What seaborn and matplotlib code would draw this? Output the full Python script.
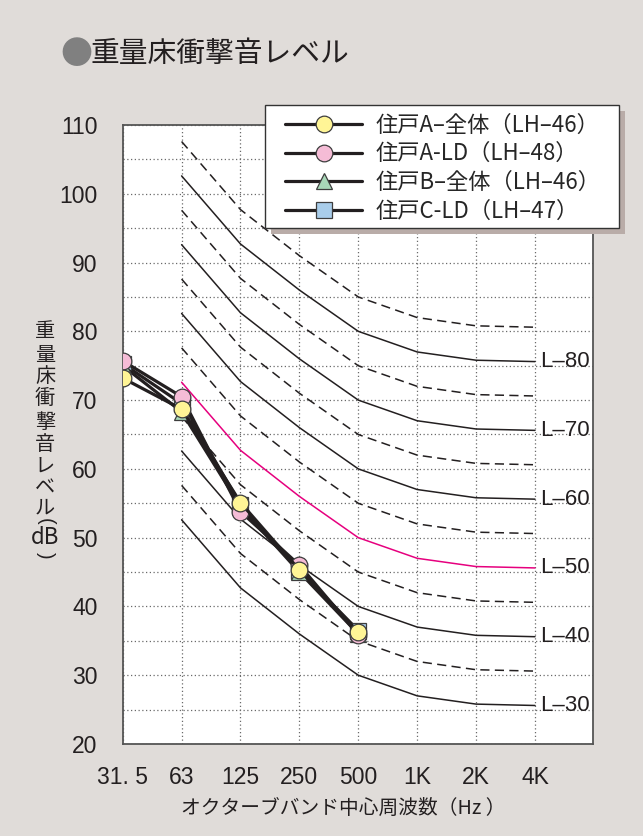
"""Heavy floor impact sound level chart (重量床衝撃音レベル) with L-curves."""
import matplotlib
matplotlib.use("Agg")
import matplotlib.pyplot as plt
from matplotlib.patches import Rectangle
import numpy as np
import pandas as pd
import seaborn as sns

# ---- data ------------------------------------------------------------------
BANDS = ["31. 5", "63", "125", "250", "500", "1K", "2K", "4K"]

# measured levels, 31.5 Hz .. 500 Hz
A_ALL = [73.2, 68.7, 55.1, 45.3, 36.3]
A_LD = [75.7, 70.5, 53.8, 46.0, 35.9]
B_ALL = [75.0, 68.3, 54.5, 45.0, 36.0]
C_LD = [75.3, 69.5, 54.8, 45.2, 36.5]
SERIES_NAMES = ["住戸A–全体（LH–46）", "住戸A-LD（LH–48）",
                "住戸B–全体（LH–46）", "住戸C-LD（LH–47）"]

# L-curves, 63 Hz .. 4 kHz
L30 = [52.6, 42.7, 36.0, 30.0, 27.0, 25.8, 25.6]
L35 = [57.6, 47.7, 41.0, 35.0, 32.0, 30.8, 30.6]
L40 = [62.6, 52.7, 46.0, 40.0, 37.0, 35.8, 35.6]
L45 = [67.6, 57.7, 51.0, 45.0, 42.0, 40.8, 40.6]
L50 = [72.6, 62.7, 56.0, 50.0, 47.0, 45.8, 45.6]
L55 = [77.6, 67.7, 61.0, 55.0, 52.0, 50.8, 50.6]
L60 = [82.6, 72.7, 66.0, 60.0, 57.0, 55.8, 55.6]
L65 = [87.6, 77.7, 71.0, 65.0, 62.0, 60.8, 60.6]
L70 = [92.6, 82.7, 76.0, 70.0, 67.0, 65.8, 65.6]
L75 = [97.6, 87.7, 81.0, 75.0, 72.0, 70.8, 70.6]
L80 = [102.6, 92.7, 86.0, 80.0, 77.0, 75.8, 75.6]
L85 = [107.6, 97.7, 91.0, 85.0, 82.0, 80.8, 80.6]
L_NAMES = [30, 35, 40, 45, 50, 55, 60, 65, 70, 75, 80, 85]
L_CURVES = [L30, L35, L40, L45, L50, L55, L60, L65, L70, L75, L80, L85]

YLABEL_CHARS = ["重", "量", "床", "衝", "撃", "音", "レ", "ベ", "ル", "(", "dB", ")"]

# ---- style -----------------------------------------------------------------
sns.set_style("white")
JP = ["Noto Sans CJK JP", "DejaVu Sans"]
NUM = ["Liberation Sans", "DejaVu Sans"]
plt.rcParams["font.family"] = JP

BG = "#e0dcd9"
INK = "#231f20"
W, H = 643, 836


def fx(px):
    return px / W


def fy(py):
    return 1 - py / H


def main():
    fig = plt.figure(figsize=(W / 100, H / 100), dpi=100, facecolor=BG)
    ax = fig.add_axes([fx(122.7), fy(744), 470 / W, 619 / H])
    ax.set_facecolor("white")

    # L-curves
    freq_idx = np.arange(1, 8)
    for name, vals in zip(L_NAMES, L_CURVES):
        df = pd.DataFrame({"x": freq_idx, "y": vals})
        if name == 50:
            style = dict(color="#e6007e", lw=1.1)
        elif name % 10 == 0:
            style = dict(color=INK, lw=1.1)
        else:
            style = dict(color=INK, lw=1.1, dashes=(6, 3.5))
        sns.lineplot(data=df, x="x", y="y", ax=ax, zorder=2, **style)
        if name % 10 == 0:
            ax.text(7.09, vals[-1], f"L–{name}", family=NUM, fontsize=16,
                    ha="left", va="center", color=INK, zorder=3)

    # measured series (drawn so that A-全体 ends on top)
    meas_idx = np.arange(0, 5)
    specs = [
        (A_ALL, "o", "#fff596"),
        (A_LD, "o", "#f5bcd6"),
        (B_ALL, "^", "#a8d8b8"),
        (C_LD, "s", "#a9cdea"),
    ]
    handles = [None] * 4
    for i in [3, 2, 1, 0]:
        vals, mk, fc = specs[i]
        df = pd.DataFrame({"x": meas_idx, "y": vals})
        sns.lineplot(data=df, x="x", y="y", ax=ax, color=INK, lw=2.3,
                     marker=mk, markersize=12, markerfacecolor=fc,
                     markeredgecolor="#3d3d3d", markeredgewidth=0.9,
                     zorder=5 + (3 - i))
        handles[i] = ax.lines[-1]

    ax.set_xlim(0, 7.98)
    ax.set_ylim(20, 110)
    ax.set_xticks(range(8))
    ax.set_xticklabels(BANDS)
    ax.set_yticks(range(20, 111, 10))
    ax.set_yticks(range(25, 110, 10), minor=True)
    ax.set_xlabel("")
    ax.set_ylabel("")
    ax.tick_params(axis="both", which="both", length=0)
    ax.tick_params(axis="x", pad=16)
    ax.tick_params(axis="y", pad=18)
    for lab in ax.get_xticklabels() + ax.get_yticklabels():
        lab.set_family(NUM)
        lab.set_fontsize(16.5)
        lab.set_color(INK)
    ax.grid(True, which="both", color="#6a6a6a", lw=0.9, linestyle=(0, (1, 2)))
    ax.set_axisbelow(True)
    for sp in ax.spines.values():
        sp.set_color("#555555")
        sp.set_linewidth(1.3)

    # legend box with offset shadow, then the entries on top
    fig.patches.append(Rectangle((fx(271), fy(234)), 354 / W, 123 / H,
                                 transform=fig.transFigure, facecolor="#b9aca8",
                                 edgecolor="none", zorder=3))
    fig.patches.append(Rectangle((fx(265), fy(228)), 354 / W, 123 / H,
                                 transform=fig.transFigure, facecolor="white",
                                 edgecolor="#333333", lw=1.0, zorder=3.1))
    fig.legend(handles, SERIES_NAMES, loc="upper left",
               bbox_to_anchor=(fx(285), fy(113.5)), borderaxespad=0,
               borderpad=0, fontsize=16, frameon=False,
               handlelength=3.47, handletextpad=0.6, labelspacing=0.26)

    # title
    fig.text(fx(60), fy(55), "●", fontsize=23, color="#808080",
             ha="left", va="center")
    fig.text(fx(91), fy(54), "重量床衝撃音レベル", fontsize=20.7,
             color=INK, ha="left", va="center")

    # vertical y-label (brackets turned for vertical writing)
    ys = [332, 355, 377, 399, 422, 445, 467, 488, 508, 521, 538, 555]
    for ch, yy in zip(YLABEL_CHARS, ys):
        if ch in "()":
            fig.text(fx(45), fy(yy), ch, fontsize=14.5, color=INK,
                     family=NUM, rotation=-90, ha="center", va="center")
        else:
            size = 16 if ch == "dB" else 14.5
            fig.text(fx(45), fy(yy), ch, fontsize=size, color=INK,
                     ha="center", va="center")

    # x-label
    fig.text(fx(343), fy(808), "オクターブバンド中心周波数（Hz ）",
             fontsize=14.2, color=INK, ha="center", va="center")

    fig.savefig("out.png", dpi=100, facecolor=BG)
    plt.close(fig)


if __name__ == "__main__":
    main()
